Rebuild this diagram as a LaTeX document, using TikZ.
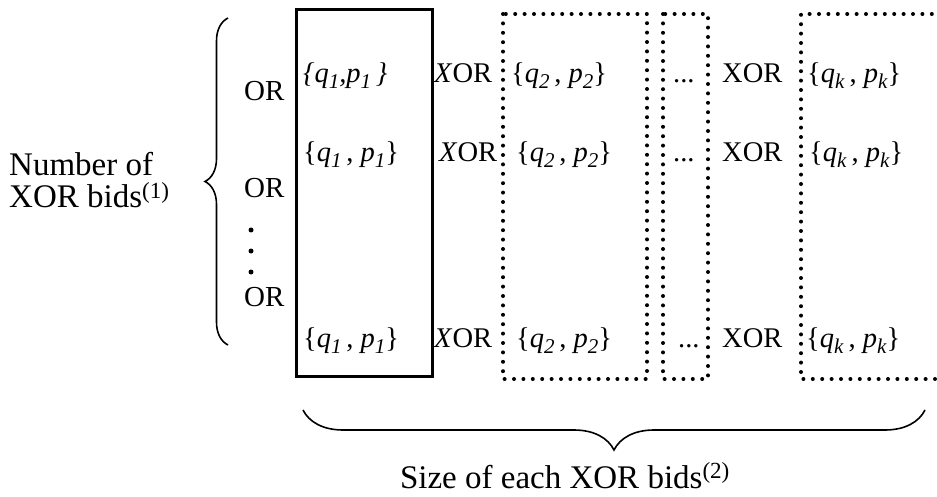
\documentclass[tikz,border=0pt]{standalone}
\usepackage{fontspec}
\setmainfont{Liberation Serif}
\usetikzlibrary{decorations.pathreplacing}
% lowered italic index used inside the bid pairs
\newcommand\lsub[1]{\raisebox{-6pt}{\fontsize{21}{21}\selectfont\textit{#1}}}
% a bid pair {q_i, p_i}
\newcommand\bidpair[1]{\{\textit{q}\lsub{#1}\,, \textit{p}\lsub{#1}\}}
\begin{document}
\begin{tikzpicture}[x=1pt,y=-1pt,
  lbl/.style={font=\fontsize{33}{32}\selectfont, inner sep=0pt},
  cell/.style={font=\fontsize{28.5}{28}\selectfont, inner sep=0pt, anchor=base west},
  orlbl/.style={font=\fontsize{29}{29}\selectfont, inner sep=0pt, anchor=base west},
  solidbox/.style={draw, line width=3pt},
  dotbox/.style={draw, line width=4pt, line cap=round, dash pattern=on 0pt off 9.4pt},
  curly/.style={draw, line width=1.6pt, decorate, decoration={brace, amplitude=#1}}]
\useasboundingbox (0,0) rectangle (937,497);
\clip (0,0) rectangle (937,497);

% columns: first XOR bid solid, the others dotted
\draw[solidbox] (296,10) rectangle (432,376);
\draw[dotbox] (503,14) rectangle (647,379);
\draw[dotbox] (663,14) rectangle (708,379);
\draw[dotbox] (960,14) -- (801,14) -- (801,379) -- (960,379);

% left brace and its label
\coordinate (lbTop) at (228,18);
\coordinate (lbBot) at (228,345);
\draw[curly=23] (lbBot) -- (lbTop);
\node[lbl, align=left, anchor=west] (count) at (9,180) {Number of\\XOR bids\textsuperscript{(1)}};

% OR column
\node[orlbl] (or1) at (244,101) {OR};
\node[orlbl] (or2) at (244,198) {OR};
\node[orlbl] (or3) at (244,306) {OR};
\fill (251,230) circle (2.5) (251,251) circle (2.5) (251,272) circle (2.5);

% row 1
\node[cell] (a1) at (303,83) {\textit{\{q\lsub{1},p\lsub{1}\,\}}};
\node[cell] (x1) at (434,83) {\textit{X}OR};
\node[cell] (b1) at (511,83) {\bidpair{2}};
\node[cell] (d1) at (673,83) {...};
\node[cell] (y1) at (722,83) {XOR};
\node[cell] (c1) at (807,83) {\bidpair{k}};

% row 2
\node[cell] (a2) at (303,162) {\bidpair{1}};
\node[cell] (x2) at (439,162) {\textit{X}OR};
\node[cell] (b2) at (516,162) {\bidpair{2}};
\node[cell] (d2) at (673,162) {...};
\node[cell] (y2) at (722,162) {XOR};
\node[cell] (c2) at (809,162) {\bidpair{k}};

% last row
\node[cell] (a3) at (303,347) {\bidpair{1}};
\node[cell] (x3) at (434,347) {\textit{X}OR};
\node[cell] (b3) at (516,347) {\bidpair{2}};
\node[cell] (d3) at (678,347) {...};
\node[cell] (y3) at (722,347) {XOR};
\node[cell] (c3) at (806,347) {\bidpair{k}};

% bottom brace and its label
\coordinate (bbL) at (303,410);
\coordinate (bbR) at (925,410);
\draw[curly=40] (bbR) -- (bbL);
\node[lbl, anchor=base] (size) at (565,488) {Size of each XOR bids\textsuperscript{(2)}};
\end{tikzpicture}
\end{document}
